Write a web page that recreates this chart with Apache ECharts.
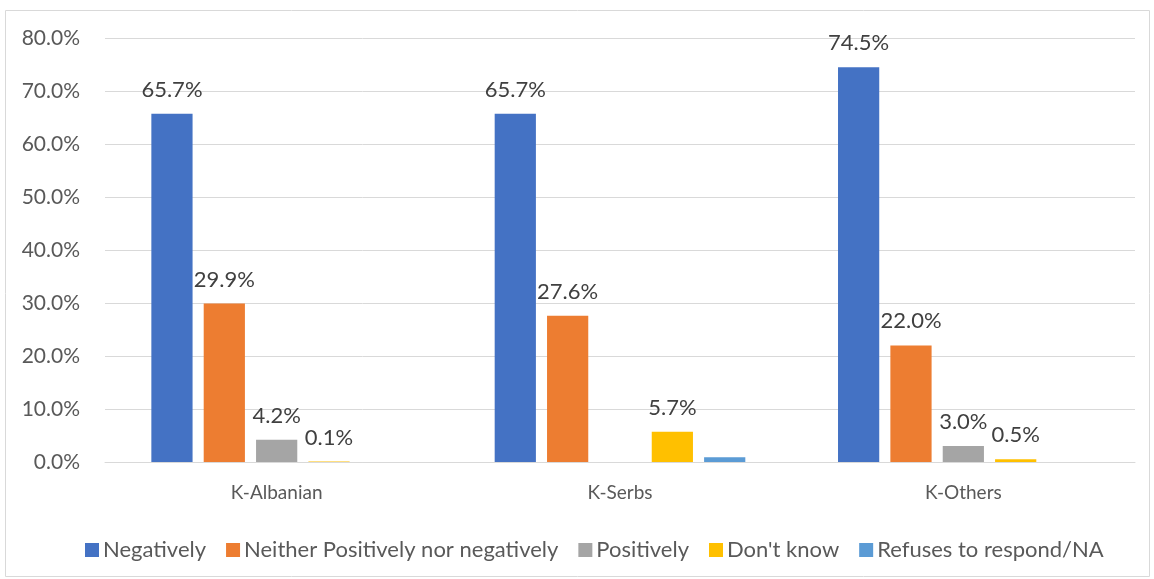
<!DOCTYPE html>
<html>
<head>
<meta charset="utf-8">
<script src="https://cdn.jsdelivr.net/npm/echarts@6/dist/echarts.min.js"></script>
<style>
html,body{margin:0;padding:0;background:#fff;}
#chart{width:1154px;height:579px;}
</style>
</head>
<body>
<div id="chart"></div>
<script>
const categories = ['K-Albanian', 'K-Serbs', 'K-Others'];
const seriesNames = ['Negatively', 'Neither Positively nor negatively', 'Positively', "Don't know", 'Refuses to respond/NA'];
const negatively = [65.7, 65.7, 74.5];
const neither = [29.9, 27.6, 22.0];
const positively = [4.2, null, 3.0];
const dontKnow = [0.1, 5.7, 0.5];
const refuses = [null, 0.9, null];
// which points show a data label
const showLabels = [
  [true, true, true],
  [true, true, true],
  [true, false, true],
  [true, true, true],
  [false, false, false]
];
const yTicks = [0, 10, 20, 30, 40, 50, 60, 70, 80];
const colors = ['#4472C4', '#ED7D31', '#A5A5A5', '#FFC000', '#5B9BD5'];

const values = [negatively, neither, positively, dontKnow, refuses];
const font = 'Lato, "Open Sans", sans-serif';

const chart = echarts.init(document.getElementById('chart'));
chart.setOption({
  animation: false,
  textStyle: { fontFamily: font },
  graphic: [{
    type: 'rect',
    shape: { x: 5.5, y: 10.5, width: 1144, height: 566 },
    style: { fill: 'none', stroke: '#D9D9D9', lineWidth: 1 },
    silent: true
  }],
  grid: { left: 105, right: 19, top: 38, bottom: 117, containLabel: false },
  legend: {
    top: 534,
    left: 80,
    itemWidth: 14,
    itemHeight: 14,
    itemGap: 20,
    icon: 'rect',
    textStyle: { fontSize: 22, color: '#595959', fontFamily: font, padding: [0, 0, 0, -1] },
    data: seriesNames
  },
  xAxis: {
    type: 'category',
    data: categories,
    axisTick: { show: false },
    axisLine: { lineStyle: { color: '#D9D9D9', width: 1 } },
    axisLabel: { fontSize: 19, color: '#595959', margin: 21, fontFamily: font }
  },
  yAxis: {
    type: 'value',
    min: yTicks[0],
    max: yTicks[yTicks.length - 1],
    interval: 10,
    axisLine: { show: false },
    axisTick: { show: false },
    splitLine: { lineStyle: { color: '#D9D9D9', width: 1 } },
    axisLabel: {
      fontSize: 21, color: '#595959', margin: 25, fontFamily: font,
      formatter: v => v.toFixed(1) + '%'
    }
  },
  series: seriesNames.map((name, i) => ({
    name: name,
    type: 'bar',
    barGap: '27%',
    barCategoryGap: '27%',
    itemStyle: { color: colors[i] },
    data: values[i].map((v, j) => ({
      value: v,
      label: {
        show: showLabels[i][j] && v !== null,
        position: 'top',
        distance: 13,
        fontSize: 22,
        color: '#404040',
        fontFamily: font,
        formatter: p => p.value.toFixed(1) + '%'
      }
    }))
  }))
});
</script>
</body>
</html>
